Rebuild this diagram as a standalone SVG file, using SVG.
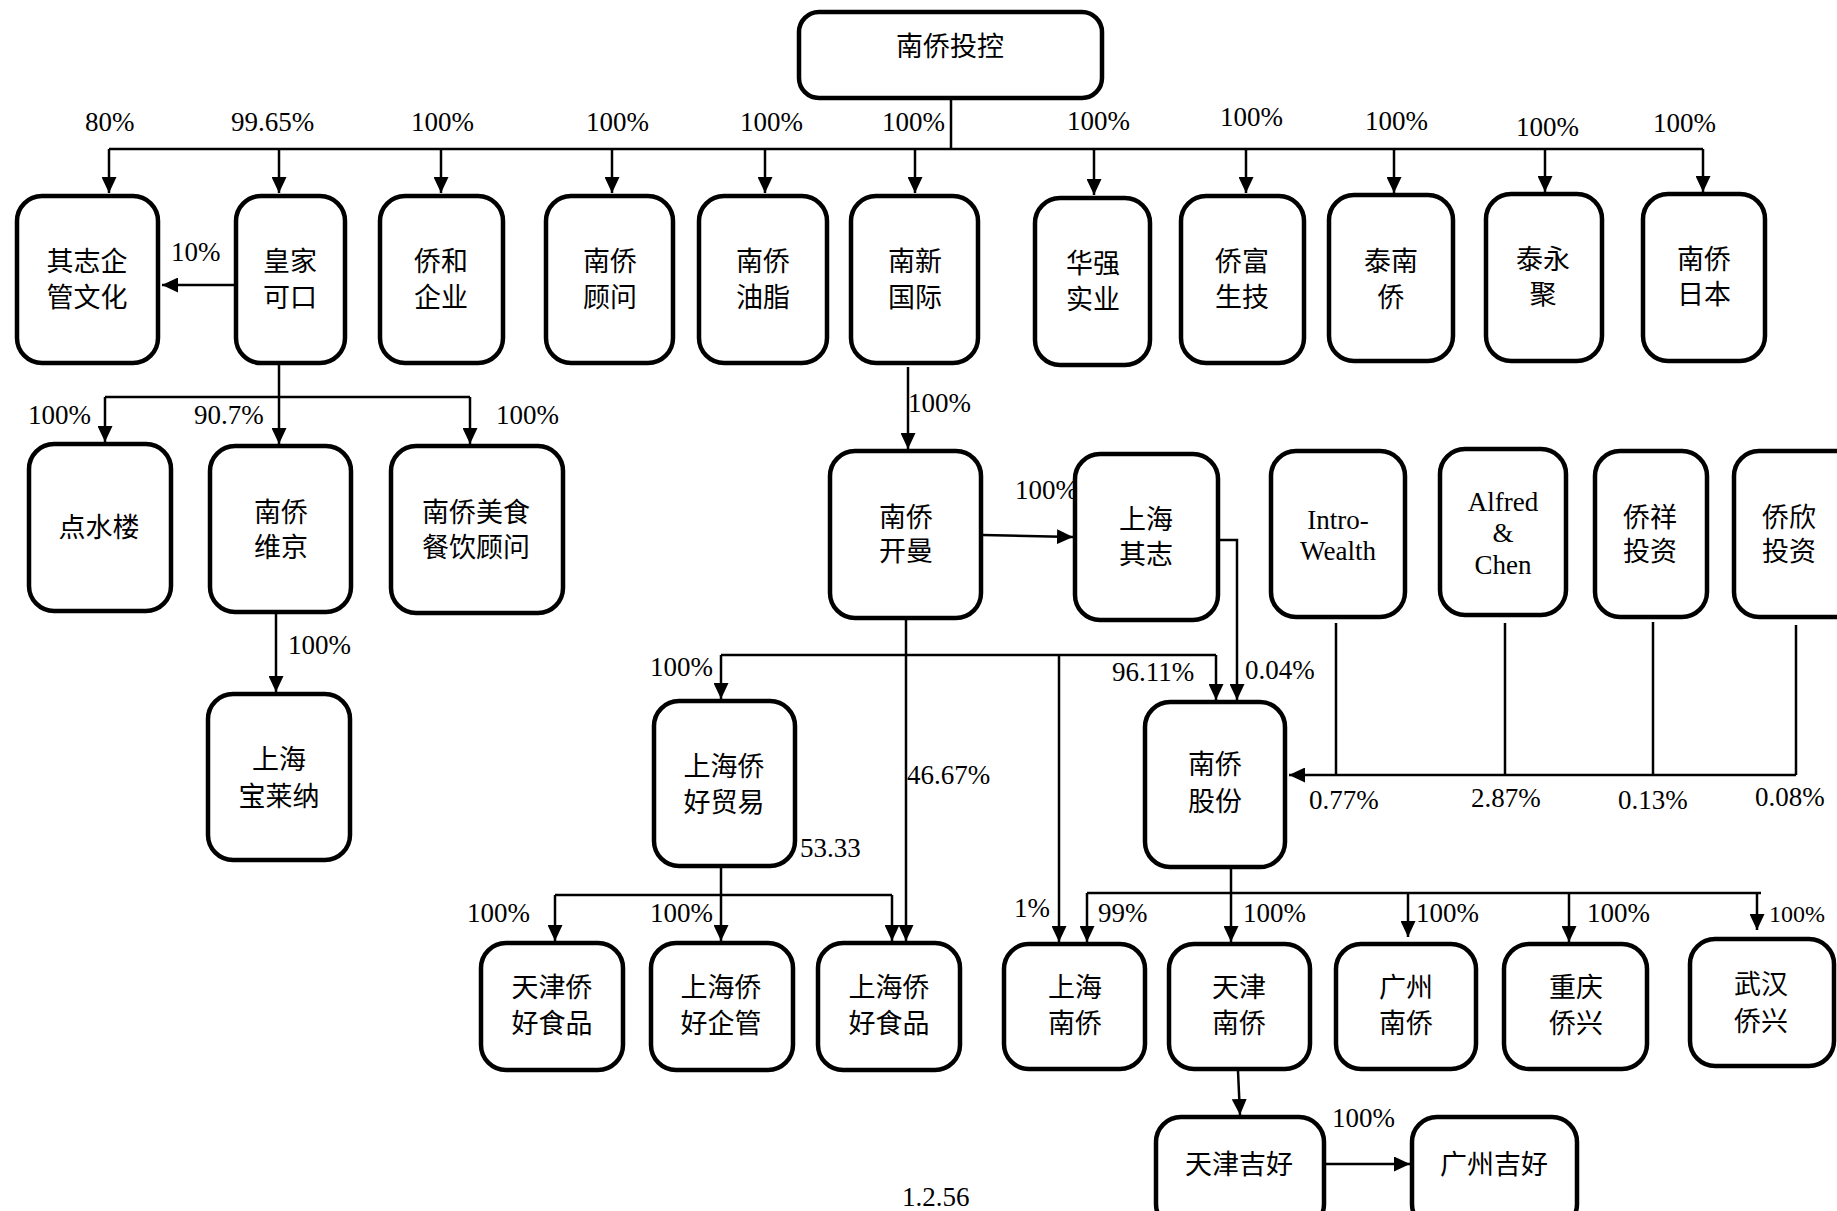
<svg xmlns="http://www.w3.org/2000/svg" width="1837" height="1211" viewBox="0 0 1837 1211">
<style>
.box{fill:#fff;stroke:#000;stroke-width:4.5}
.ln{fill:none;stroke:#000;stroke-width:2.5}
.ar{marker-end:url(#ah)}
text{font-family:"Liberation Serif","Noto Sans CJK SC",serif;font-size:27px;fill:#000}
.c{text-anchor:middle;dominant-baseline:central}
.s{font-size:24px}
</style>
<defs>
<marker id="ah" markerUnits="userSpaceOnUse" markerWidth="16" markerHeight="15" refX="16" refY="7.5" orient="auto">
<path d="M0,0 L16,7.5 L0,15 z" fill="#000"/>
</marker>
</defs>
<rect width="1837" height="1211" fill="#fff"/>

<g id="connectors">
<path class="ln" d="M951,100 V149 M109,149 H1703"/>
<path class="ln ar" d="M109,149 V193"/>
<path class="ln ar" d="M279,149 V193"/>
<path class="ln ar" d="M441,149 V193"/>
<path class="ln ar" d="M612,149 V193"/>
<path class="ln ar" d="M765,149 V193"/>
<path class="ln ar" d="M915,149 V193"/>
<path class="ln ar" d="M1094,149 V195"/>
<path class="ln ar" d="M1246,149 V193"/>
<path class="ln ar" d="M1394,149 V193"/>
<path class="ln ar" d="M1545,149 V192"/>
<path class="ln ar" d="M1703,149 V192"/>
<path class="ln ar" d="M234,285 H162"/>
<path class="ln ar" d="M279,365 V444"/>
<path class="ln" d="M105,397 H470"/>
<path class="ln ar" d="M105,397 V442"/>
<path class="ln ar" d="M470,397 V444"/>
<path class="ln ar" d="M276,614 V692"/>
<path class="ln ar" d="M908,367 V449"/>
<path class="ln ar" d="M983,535 L1073,537"/>
<path class="ln ar" d="M1220,540 H1237 V700"/>
<path class="ln ar" d="M906,620 V941"/>
<path class="ln" d="M721,655 H1216"/>
<path class="ln ar" d="M721,655 V699"/>
<path class="ln ar" d="M1216,655 V700"/>
<path class="ln ar" d="M1059,655 V942"/>
<path class="ln" d="M1336,623 V775 M1505,623 V775 M1653,622 V775 M1796,625 V775"/>
<path class="ln ar" d="M1796,775 H1289"/>
<path class="ln ar" d="M721,868 V941"/>
<path class="ln" d="M555,895 H892"/>
<path class="ln ar" d="M555,895 V941"/>
<path class="ln ar" d="M892,895 V941"/>
<path class="ln ar" d="M1231,869 V942"/>
<path class="ln" d="M1087,893 H1761"/>
<path class="ln ar" d="M1087,893 V942"/>
<path class="ln ar" d="M1408,893 V937"/>
<path class="ln ar" d="M1569,893 V942"/>
<path class="ln ar" d="M1757,893 V930"/>
<path class="ln ar" d="M1238,1071 L1240,1115"/>
<path class="ln ar" d="M1326,1164 H1410"/>
</g>

<g id="labels">
<text x="85" y="131">80%</text>
<text x="231" y="131">99.65%</text>
<text x="411" y="131">100%</text>
<text x="586" y="131">100%</text>
<text x="740" y="131">100%</text>
<text x="882" y="131">100%</text>
<text x="1067" y="130">100%</text>
<text x="1220" y="126">100%</text>
<text x="1365" y="130">100%</text>
<text x="1516" y="136">100%</text>
<text x="1653" y="132">100%</text>
<text x="171" y="261">10%</text>
<text x="28" y="424">100%</text>
<text x="194" y="424">90.7%</text>
<text x="496" y="424">100%</text>
<text x="288" y="654">100%</text>
<text x="908" y="412">100%</text>
<text x="1015" y="499">100%</text>
<text x="1245" y="679">0.04%</text>
<text x="650" y="676">100%</text>
<text x="1112" y="681">96.11%</text>
<text x="907" y="784">46.67%</text>
<text x="800" y="857">53.33</text>
<text x="1309" y="809">0.77%</text>
<text x="1471" y="807">2.87%</text>
<text x="1618" y="809">0.13%</text>
<text x="1755" y="806">0.08%</text>
<text x="467" y="922">100%</text>
<text x="650" y="922">100%</text>
<text x="1014" y="917">1%</text>
<text x="1098" y="922">99%</text>
<text x="1243" y="922">100%</text>
<text x="1416" y="922">100%</text>
<text x="1587" y="922">100%</text>
<text class="s" x="1769" y="922">100%</text>
<text x="1332" y="1127">100%</text>
<text x="902" y="1206">1.2.56</text>
</g>

<g id="n_nqtk"><rect class="box" x="799" y="12" width="303" height="86" rx="20"/><text class="c" x="950" y="47">南侨投控</text></g>
<g id="n_qzqg"><rect class="box" x="17" y="196" width="141" height="167" rx="25"/><text class="c" x="87" y="262">其志企</text><text class="c" x="87" y="298">管文化</text></g>
<g id="n_hjkk"><rect class="box" x="236" y="196" width="109" height="167" rx="25"/><text class="c" x="290" y="262">皇家</text><text class="c" x="290" y="298">可口</text></g>
<g id="n_qhqy"><rect class="box" x="380" y="196" width="123" height="167" rx="25"/><text class="c" x="441" y="262">侨和</text><text class="c" x="441" y="298">企业</text></g>
<g id="n_nqgw"><rect class="box" x="546" y="196" width="127" height="167" rx="25"/><text class="c" x="610" y="262">南侨</text><text class="c" x="610" y="298">顾问</text></g>
<g id="n_nqyz"><rect class="box" x="699" y="196" width="128" height="167" rx="25"/><text class="c" x="763" y="262">南侨</text><text class="c" x="763" y="298">油脂</text></g>
<g id="n_nxgj"><rect class="box" x="851" y="196" width="127" height="167" rx="25"/><text class="c" x="915" y="262">南新</text><text class="c" x="915" y="298">国际</text></g>
<g id="n_hqsy"><rect class="box" x="1035" y="198" width="115" height="167" rx="25"/><text class="c" x="1093" y="264">华强</text><text class="c" x="1093" y="300">实业</text></g>
<g id="n_qfsj"><rect class="box" x="1181" y="196" width="123" height="167" rx="25"/><text class="c" x="1242" y="262">侨富</text><text class="c" x="1242" y="298">生技</text></g>
<g id="n_tnq"><rect class="box" x="1329" y="195" width="124" height="166" rx="25"/><text class="c" x="1391" y="262">泰南</text><text class="c" x="1391" y="298">侨</text></g>
<g id="n_tyj"><rect class="box" x="1486" y="194" width="116" height="167" rx="25"/><text class="c" x="1543" y="260">泰永</text><text class="c" x="1543" y="295">聚</text></g>
<g id="n_nqrb"><rect class="box" x="1643" y="194" width="122" height="167" rx="25"/><text class="c" x="1704" y="260">南侨</text><text class="c" x="1704" y="295">日本</text></g>

<g id="n_dsl"><rect class="box" x="29" y="444" width="142" height="167" rx="25"/><text class="c" x="99" y="528">点水楼</text></g>
<g id="n_nqwj"><rect class="box" x="210" y="446" width="141" height="166" rx="25"/><text class="c" x="281" y="513">南侨</text><text class="c" x="281" y="548">维京</text></g>
<g id="n_nqms"><rect class="box" x="391" y="446" width="172" height="167" rx="25"/><text class="c" x="476" y="513">南侨美食</text><text class="c" x="476" y="548">餐饮顾问</text></g>
<g id="n_shbln"><rect class="box" x="208" y="694" width="142" height="166" rx="25"/><text class="c" x="279" y="760">上海</text><text class="c" x="279" y="797">宝莱纳</text></g>

<g id="n_nqkm"><rect class="box" x="830" y="451" width="151" height="167" rx="25"/><text class="c" x="906" y="518">南侨</text><text class="c" x="906" y="552">开曼</text></g>
<g id="n_shqz"><rect class="box" x="1075" y="454" width="143" height="166" rx="25"/><text class="c" x="1146" y="520">上海</text><text class="c" x="1146" y="555">其志</text></g>
<g id="n_intro"><rect class="box" x="1271" y="451" width="134" height="166" rx="25"/><text class="c" x="1338" y="520">Intro-</text><text class="c" x="1338" y="551">Wealth</text></g>
<g id="n_alfred"><rect class="box" x="1440" y="449" width="126" height="166" rx="25"/><text class="c" x="1503" y="502">Alfred</text><text class="c" x="1503" y="533">&amp;</text><text class="c" x="1503" y="565">Chen</text></g>
<g id="n_qxtz"><rect class="box" x="1595" y="451" width="112" height="166" rx="25"/><text class="c" x="1650" y="518">侨祥</text><text class="c" x="1650" y="552">投资</text></g>
<g id="n_qxtz2"><rect class="box" x="1734" y="451" width="130" height="166" rx="25"/><text class="c" x="1789" y="518">侨欣</text><text class="c" x="1789" y="552">投资</text></g>

<g id="n_shqhmy"><rect class="box" x="654" y="701" width="141" height="165" rx="25"/><text class="c" x="724" y="767">上海侨</text><text class="c" x="724" y="803">好贸易</text></g>
<g id="n_nqgf"><rect class="box" x="1145" y="702" width="140" height="165" rx="25"/><text class="c" x="1215" y="765">南侨</text><text class="c" x="1215" y="802">股份</text></g>

<g id="n_tjqhsp"><rect class="box" x="481" y="943" width="142" height="127" rx="25"/><text class="c" x="552" y="988">天津侨</text><text class="c" x="552" y="1024">好食品</text></g>
<g id="n_shqhqg"><rect class="box" x="651" y="943" width="142" height="127" rx="25"/><text class="c" x="721" y="988">上海侨</text><text class="c" x="721" y="1024">好企管</text></g>
<g id="n_shqhsp"><rect class="box" x="818" y="943" width="142" height="127" rx="25"/><text class="c" x="889" y="988">上海侨</text><text class="c" x="889" y="1024">好食品</text></g>
<g id="n_shnq"><rect class="box" x="1004" y="944" width="141" height="125" rx="25"/><text class="c" x="1075" y="988">上海</text><text class="c" x="1075" y="1024">南侨</text></g>
<g id="n_tjnq"><rect class="box" x="1169" y="944" width="141" height="125" rx="25"/><text class="c" x="1239" y="988">天津</text><text class="c" x="1239" y="1024">南侨</text></g>
<g id="n_gznq"><rect class="box" x="1336" y="944" width="140" height="125" rx="25"/><text class="c" x="1406" y="988">广州</text><text class="c" x="1406" y="1024">南侨</text></g>
<g id="n_cqqx"><rect class="box" x="1504" y="944" width="143" height="125" rx="25"/><text class="c" x="1576" y="988">重庆</text><text class="c" x="1576" y="1024">侨兴</text></g>
<g id="n_whqx"><rect class="box" x="1690" y="939" width="144" height="127" rx="25"/><text class="c" x="1761" y="985">武汉</text><text class="c" x="1761" y="1022">侨兴</text></g>
<g id="n_tjjh"><rect class="box" x="1156" y="1117" width="168" height="112" rx="25"/><text class="c" x="1239" y="1165">天津吉好</text></g>
<g id="n_gzjh"><rect class="box" x="1412" y="1117" width="165" height="112" rx="25"/><text class="c" x="1494" y="1165">广州吉好</text></g>
</svg>
